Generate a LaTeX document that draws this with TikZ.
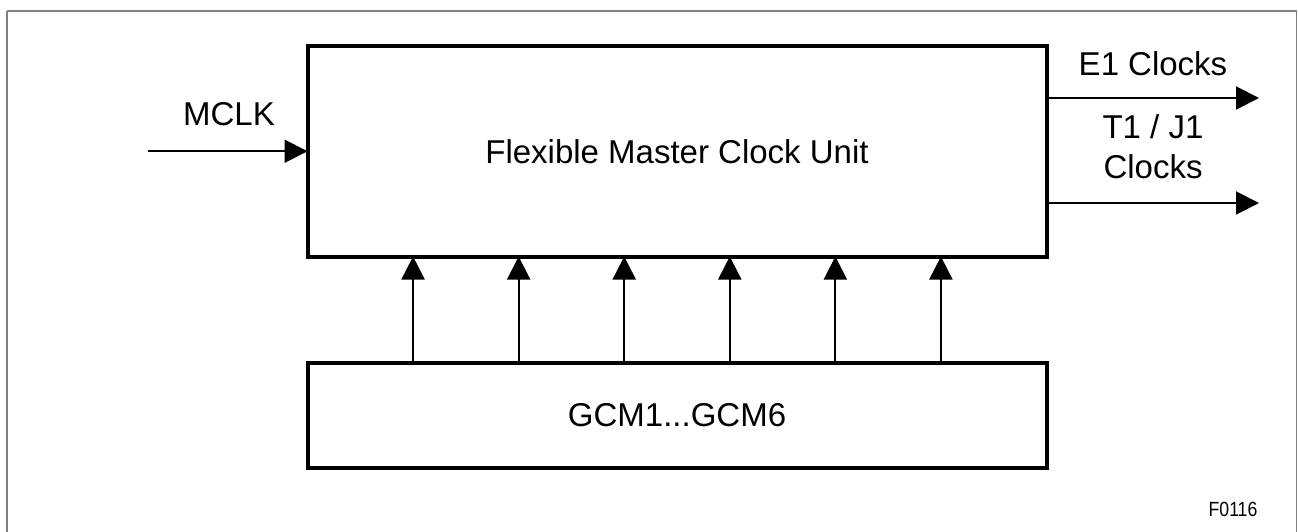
\documentclass[tikz,border=0pt]{standalone}
\usepackage{fontspec}
\setmainfont{Liberation Sans}
\usetikzlibrary{arrows.meta,calc}
\begin{document}
\begin{tikzpicture}[x=1pt,y=-1pt,
  blockbox/.style={draw=black,line width=4pt,rectangle,outer sep=0pt,inner sep=0pt,align=center,font=\fontsize{33}{40}\selectfont},
  lbl/.style={inner sep=0pt,outer sep=0pt,align=center,font=\fontsize{33}{40}\selectfont},
  sig/.style={line width=2pt,-{Triangle[length=23pt,width=23pt]}},
  frame/.style={draw=black!50,line width=1.5pt}
]
\useasboundingbox (0,0) rectangle (1298,532);
\draw[frame] (7,11) -- (1296.5,11) -- (1296.5,540) (7,11) -- (7,540);

\node[blockbox,minimum width=739pt,minimum height=210.5pt] (main) at (677,151.25) {Flexible Master Clock Unit};
\node[blockbox,minimum width=739pt,minimum height=105pt] (gcm) at (677,415.5) {GCM1...GCM6};

\coordinate (mclkin) at (148,151.25);
\draw[sig] (mclkin) -- (main.west);
\node[lbl] (mclk) at (229,114) {MCLK};

\coordinate (e1out) at (1259,98);
\coordinate (t1out) at (1259,203);
\draw[sig] (main.east |- e1out) -- (e1out);
\draw[sig] (main.east |- t1out) -- (t1out);
\node[lbl] (e1lbl) at (1153,64) {E1 Clocks};
\node[lbl] (t1lbl) at (1153,146.5) {T1 / J1\\Clocks};

\foreach \k in {1,...,6} {
  \coordinate (g\k) at ($(gcm.north west)!\k/7!(gcm.north east)$);
  \draw[sig] (g\k) -- (g\k |- main.south);
}

\node[inner sep=0pt,font=\fontsize{20.5}{24}\selectfont] (fig) at (1233,509.5) {\scalebox{0.86}[1]{F0116}};
\end{tikzpicture}
\end{document}
